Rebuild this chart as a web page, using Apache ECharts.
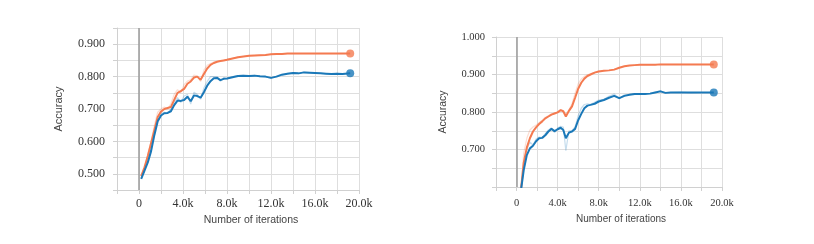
<!DOCTYPE html>
<html>
<head>
<meta charset="utf-8">
<script src="https://cdn.jsdelivr.net/npm/echarts/dist/echarts.min.js"></script>
<style>
html,body{margin:0;padding:0;background:#fff;}
#chart{width:814px;height:244px;}
</style>
</head>
<body>
<div id="chart"></div>
<script>
// ---------- Left chart data ----------
const stepsA = [200,500,800,1100,1400,1700,2000,2300,2600,2900,3200,3500,3800,4100,4400,4700,5000,5300,5600,5900,6200,6500,6800,7100,7400,7700,8000,
  8500,9000,9500,10000,10500,11000,11500,12000,12500,13000,13500,14000,14500,15000,15500,16000,16500,17000,17500,18000,18500,19200];
const orangeA = [0.493,0.52,0.555,0.595,0.635,0.675,0.692,0.700,0.703,0.706,0.728,0.750,0.755,0.762,0.778,0.785,0.797,0.800,0.790,0.808,0.825,0.836,0.842,0.846,0.848,0.850,0.852,
  0.856,0.860,0.862,0.864,0.865,0.866,0.867,0.869,0.870,0.870,0.871,0.871,0.871,0.871,0.871,0.871,0.871,0.871,0.871,0.871,0.871,0.871];
const blueA = [0.484,0.51,0.535,0.57,0.62,0.662,0.680,0.687,0.688,0.693,0.712,0.726,0.725,0.728,0.738,0.724,0.742,0.740,0.735,0.752,0.772,0.786,0.795,0.796,0.789,0.793,0.794,
  0.798,0.802,0.803,0.802,0.803,0.801,0.800,0.796,0.800,0.806,0.809,0.811,0.810,0.813,0.812,0.811,0.810,0.809,0.808,0.809,0.808,0.810];
const orangeRawA = [0.493,0.52,0.56,0.60,0.65,0.69,0.700,0.706,0.700,0.716,0.745,0.760,0.750,0.775,0.786,0.790,0.805,0.802,0.785,0.820,0.835,0.840,0.845,0.846,0.849,0.850,0.853,
  0.856,0.860,0.862,0.864,0.865,0.866,0.867,0.869,0.870,0.870,0.871,0.871,0.871,0.871,0.871,0.871,0.871,0.871,0.871,0.871,0.871,0.871];
const blueRawA = [0.484,0.51,0.54,0.58,0.63,0.675,0.686,0.690,0.686,0.700,0.722,0.735,0.720,0.740,0.745,0.715,0.752,0.745,0.730,0.765,0.785,0.800,0.800,0.800,0.785,0.797,0.793,
  0.800,0.803,0.804,0.801,0.804,0.800,0.799,0.795,0.802,0.807,0.810,0.812,0.809,0.814,0.812,0.810,0.810,0.809,0.807,0.810,0.808,0.810];

// ---------- Right chart data ----------
const stepsB = [450,700,1000,1300,1600,1900,2200,2500,2800,3100,3400,3700,4000,4300,4550,4800,5100,5400,5700,6000,6300,6600,6900,7200,7600,8000,
  8500,9000,9500,10000,10500,11000,11500,12000,12500,13000,13500,14000,14500,15000,16000,17000,18000,19200];
const orangeB = [0.598,0.665,0.705,0.730,0.748,0.759,0.768,0.775,0.783,0.788,0.793,0.796,0.799,0.805,0.802,0.788,0.803,0.815,0.838,0.862,0.878,0.889,0.896,0.900,0.905,0.908,
  0.910,0.911,0.913,0.918,0.922,0.924,0.925,0.926,0.926,0.926,0.926,0.927,0.927,0.927,0.927,0.927,0.927,0.927];
const blueB = [0.595,0.645,0.685,0.703,0.710,0.722,0.730,0.731,0.738,0.748,0.755,0.749,0.754,0.758,0.752,0.730,0.745,0.748,0.755,0.778,0.795,0.810,0.817,0.819,0.822,0.828,
  0.832,0.838,0.843,0.837,0.843,0.846,0.848,0.848,0.848,0.849,0.852,0.855,0.851,0.852,0.852,0.852,0.852,0.852];
const orangeRawB = [0.600,0.690,0.730,0.752,0.760,0.765,0.772,0.778,0.786,0.790,0.795,0.797,0.800,0.806,0.800,0.795,0.806,0.822,0.850,0.875,0.888,0.895,0.899,0.902,0.906,0.909,
  0.910,0.911,0.913,0.918,0.922,0.924,0.925,0.926,0.926,0.926,0.926,0.927,0.927,0.927,0.927,0.927,0.927,0.927];
const blueRawB = [0.600,0.660,0.700,0.720,0.712,0.728,0.733,0.732,0.742,0.752,0.758,0.745,0.757,0.762,0.760,0.697,0.750,0.750,0.760,0.790,0.810,0.820,0.822,0.820,0.826,0.832,
  0.834,0.842,0.848,0.835,0.846,0.847,0.849,0.847,0.849,0.850,0.853,0.857,0.850,0.852,0.853,0.851,0.852,0.852];

const xTicks = ['0','4.0k','8.0k','12.0k','16.0k','20.0k'];
const yTicksA = ['0.500','0.600','0.700','0.800','0.900'];
const yTicksB = ['0.700','0.800','0.900','1.000'];

const ORANGE = '#f47a50';
const BLUE = '#1a78b8';
const GRID = '#dedede';
const SERIF = "'Liberation Serif', 'Times New Roman', serif";
const SANS = "'Liberation Sans', Arial, sans-serif";

function zip(xs, ys){ return xs.map((x,i)=>[x, ys[i]]); }

function xAxisCfg(gi, fs, margin, nameFs, shift){
  return {
    type:'value', gridIndex:gi, min:-2000, max:20000, interval:2000,
    axisLine:{show:true, onZero:false, lineStyle:{color:'#d0d0d0'}},
    axisTick:{show:true, length:4, lineStyle:{color:'#d0d0d0'}},
    splitLine:{show:true, lineStyle:{color:GRID}},
    axisLabel:{margin:margin, fontFamily:SERIF, fontSize:fs, color:'#333',
      formatter:function(v){ if (v>=0 && v%4000===0) return xTicks[v/4000]; return ''; }},
    name:'Number of iterations', nameLocation:'middle', nameGap:25,
    nameTextStyle:{fontFamily:SANS, fontSize:nameFs, color:'#444', padding:[0,0,0,shift]}
  };
}
function yAxisCfg(gi, min, max, ticks, fs, margin, nameFs, gap){
  return {
    type:'value', gridIndex:gi, min:min, max:max, interval:0.05,
    axisLine:{show:true, onZero:false, lineStyle:{color:'#d0d0d0'}},
    axisTick:{show:true, length:4, lineStyle:{color:'#d0d0d0'}},
    splitLine:{show:true, lineStyle:{color:GRID}},
    axisLabel:{margin:margin, fontFamily:SERIF, fontSize:fs, color:'#333',
      formatter:function(v){ const s = v.toFixed(3); return ticks.indexOf(s) >= 0 ? s : ''; }},
    name:'Accuracy', nameLocation:'middle', nameGap:gap,
    nameTextStyle:{fontFamily:SANS, fontSize:nameFs, color:'#444'}
  };
}
function lineSeries(gi, xs, ys, color, raw){
  return {
    type:'line', xAxisIndex:gi, yAxisIndex:gi, data:zip(xs, ys), showSymbol:false, symbol:'none',
    clip:true, silent:true,
    lineStyle:{color:color, width: raw ? 1.2 : 2, opacity: raw ? 0.25 : 1},
    z: raw ? 2 : 3
  };
}
function endDot(gi, xs, ys, color){
  return {
    type:'scatter', xAxisIndex:gi, yAxisIndex:gi, symbolSize:8, silent:true,
    itemStyle:{color:color}, z:4,
    data:[[xs[xs.length-1], ys[ys.length-1]]]
  };
}
const zeroLine = {
  silent:true, symbol:'none', animation:false, label:{show:false},
  lineStyle:{color:'#9a9a9a', width:1.5, type:'solid'}, data:[{xAxis:0}]
};

const chart = echarts.init(document.getElementById('chart'), null, {renderer:'canvas'});
const sA0 = lineSeries(0, stepsA, orangeRawA, ORANGE, true); sA0.markLine = zeroLine;
const sB0 = lineSeries(1, stepsB, orangeRawB, ORANGE, true); sB0.markLine = zeroLine;
chart.setOption({
  animation:false,
  backgroundColor:'#fff',
  grid:[
    {left:117, right:455, top:28, bottom:54},
    {left:496, right:92, top:37, bottom:57}
  ],
  xAxis:[ xAxisCfg(0, 12, 8, 10.5, 26), xAxisCfg(1, 10.5, 11, 10, 24) ],
  yAxis:[ yAxisCfg(0, 0.45, 0.95, yTicksA, 12, 12, 11, 53), yAxisCfg(1, 0.6, 1.0, yTicksB, 10.5, 11, 10.5, 47) ],
  series:[
    sA0,
    lineSeries(0, stepsA, blueRawA, BLUE, true),
    lineSeries(0, stepsA, orangeA, ORANGE, false),
    lineSeries(0, stepsA, blueA, BLUE, false),
    endDot(0, stepsA, orangeA, ORANGE),
    endDot(0, stepsA, blueA, BLUE),
    sB0,
    lineSeries(1, stepsB, blueRawB, BLUE, true),
    lineSeries(1, stepsB, orangeB, ORANGE, false),
    lineSeries(1, stepsB, blueB, BLUE, false),
    endDot(1, stepsB, orangeB, ORANGE),
    endDot(1, stepsB, blueB, BLUE)
  ]
});
</script>
</body>
</html>
